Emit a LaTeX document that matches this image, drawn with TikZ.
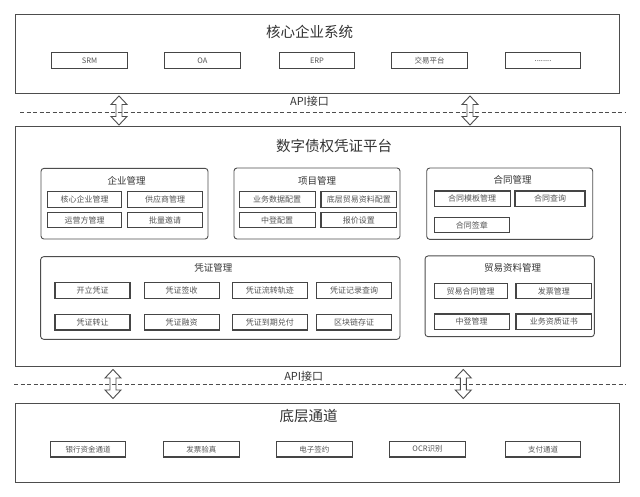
\documentclass[tikz,border=0pt]{standalone}
\usepackage{fontspec}
\setmainfont{Noto Sans CJK SC}
\usetikzlibrary{positioning}
\definecolor{linec}{HTML}{4D4D4D}
\definecolor{titlec}{HTML}{333333}
\definecolor{itemc}{HTML}{555555}
\tikzset{
  outerbox/.style={draw=linec, line width=0.9pt, inner sep=0pt},
  panel/.style={draw=linec, line width=0.9pt, rounded corners=3pt, inner sep=0pt},
  item/.style={draw=linec!90!black, line width=1.1pt, inner sep=0pt, minimum height=15.6pt, text=itemc, font=\fontsize{7.5pt}{8pt}\selectfont},
  bigtitle/.style={text=titlec, inner sep=0pt, font=\fontsize{14.5pt}{16pt}\selectfont},
  paneltitle/.style={text=titlec, inner sep=0pt, font=\fontsize{9.5pt}{11pt}\selectfont},
  apilabel/.style={text=titlec, inner sep=0pt, font=\fontsize{11pt}{12pt}\selectfont},
  dashline/.style={draw=linec, line width=0.9pt, dash pattern=on 4pt off 2.5pt},
  blockarrow/.style={draw=linec, line width=0.9pt, line join=miter},
}
\newcommand{\dblarrow}[3]{%
  \draw[blockarrow] (#1,#2) -- (#1+8,#2+8.5) -- (#1+3,#2+8.5) -- (#1+3,#3-8.5) -- (#1+8,#3-8.5) -- (#1,#3) -- (#1-8,#3-8.5) -- (#1-3,#3-8.5) -- (#1-3,#2+8.5) -- (#1-8,#2+8.5) -- cycle;}
\begin{document}
\begin{tikzpicture}[x=1pt,y=-1pt]
\useasboundingbox (0,0) rectangle (640,497);
\fill[white] (0,0) rectangle (640,497);

% ---------- top: core enterprise system ----------
\node[outerbox, minimum width=604.5pt, minimum height=79pt] (core) at (317.25,53.8) {};
\node[bigtitle] (coret) at (309.7,31.5) {核心企业系统};
\node[item, minimum width=75.5pt] (srm) at (89.5,60.6) {SRM};
\node[item, minimum width=75.5pt] (oa) at (202.5,60.6) {OA};
\node[item, minimum width=75.5pt] (erp) at (317,60.6) {ERP};
\node[item, minimum width=75.5pt] (jy) at (429.5,60.6) {交易平台};
\node[item, minimum width=75.5pt] (etc) at (543,60.6) {........};

% ---------- API line 1 ----------
\coordinate (d1l) at (20,112.5);
\coordinate (d1r) at (626,112.5);
\draw[dashline] (d1l) -- (d1r);
\node[apilabel] (api1) at (309.5,101.5) {API接口};
\dblarrow{119}{96}{125}
\dblarrow{470}{96}{125}

% ---------- middle: platform ----------
\node[outerbox, minimum width=605pt, minimum height=240pt] (plat) at (317.5,246) {};
\node[bigtitle] (platt) at (334,146) {数字债权凭证平台};

% 企业管理
\node[panel, minimum width=167pt, minimum height=70.7pt] (p1) at (124.5,203.7) {};
\node[paneltitle] (p1t) at (126.7,181) {企业管理};
\node[item, minimum width=74.4pt, font=\fontsize{8pt}{9pt}\selectfont] (a1) at (84.5,199.5) {核心企业管理};
\node[item, minimum width=75.4pt, font=\fontsize{8pt}{9pt}\selectfont] (a2) at (165,199.5) {供应商管理};
\node[item, minimum width=74.4pt, font=\fontsize{8pt}{9pt}\selectfont] (a3) at (84.5,220) {运营方管理};
\node[item, minimum width=75.4pt, font=\fontsize{8pt}{9pt}\selectfont] (a4) at (165,220) {批量邀请};

% 项目管理
\node[panel, minimum width=166pt, minimum height=71pt] (p2) at (317,203.5) {};
\node[paneltitle] (p2t) at (317,181) {项目管理};
\node[item, minimum width=75.7pt, font=\fontsize{8pt}{9pt}\selectfont] (b1) at (277.2,199.5) {业务数据配置};
\node[item, minimum width=75.7pt, font=\fontsize{8pt}{9pt}\selectfont] (b2) at (358.8,199.5) {底层贸易资料配置};
\node[item, minimum width=75.7pt, font=\fontsize{8pt}{9pt}\selectfont] (b3) at (277.2,220) {中登配置};
\node[item, minimum width=75.7pt, font=\fontsize{8pt}{9pt}\selectfont] (b4) at (358.8,220) {报价设置};

% 合同管理
\node[panel, minimum width=166pt, minimum height=71.3pt] (p3) at (509.7,203.7) {};
\node[paneltitle] (p3t) at (512.7,180) {合同管理};
\node[item, minimum width=75.7pt, font=\fontsize{8pt}{9pt}\selectfont] (c1) at (472.2,198.8) {合同模板管理};
\node[item, minimum width=70pt, font=\fontsize{8pt}{9pt}\selectfont] (c2) at (550,198.8) {合同查询};
\node[item, minimum width=75pt, font=\fontsize{8pt}{9pt}\selectfont] (c3) at (471.8,225) {合同签章};

% 凭证管理
\node[panel, minimum width=359.3pt, minimum height=82.6pt] (p4) at (220.3,298) {};
\node[paneltitle] (p4t) at (213.3,268.3) {凭证管理};
\node[item, minimum width=75pt, font=\fontsize{8pt}{9pt}\selectfont] (v1) at (92.5,290.5) {开立凭证};
\node[item, minimum width=75pt, font=\fontsize{8pt}{9pt}\selectfont] (v2) at (181.7,290.5) {凭证签收};
\node[item, minimum width=75pt, font=\fontsize{8pt}{9pt}\selectfont] (v3) at (269.8,290.5) {凭证流转轨迹};
\node[item, minimum width=75pt, font=\fontsize{8pt}{9pt}\selectfont] (v4) at (354.2,290.5) {凭证记录查询};
\node[item, minimum width=75pt, font=\fontsize{8pt}{9pt}\selectfont] (v5) at (92.5,322.2) {凭证转让};
\node[item, minimum width=75pt, font=\fontsize{8pt}{9pt}\selectfont] (v6) at (181.7,322.2) {凭证融资};
\node[item, minimum width=75pt, font=\fontsize{8pt}{9pt}\selectfont] (v7) at (269.8,322.2) {凭证到期兑付};
\node[item, minimum width=75pt, font=\fontsize{8pt}{9pt}\selectfont] (v8) at (354.2,322.2) {区块链存证};

% 贸易资料管理
\node[panel, minimum width=169.3pt, minimum height=80.7pt] (p5) at (509.7,296.3) {};
\node[paneltitle] (p5t) at (512.7,268.3) {贸易资料管理};
\node[item, minimum width=73.3pt, font=\fontsize{8pt}{9pt}\selectfont] (t1) at (470.7,291) {贸易合同管理};
\node[item, minimum width=75.7pt, font=\fontsize{8pt}{9pt}\selectfont] (t2) at (553.8,291) {发票管理};
\node[item, minimum width=75.3pt, font=\fontsize{8pt}{9pt}\selectfont] (t3) at (471.7,321.8) {中登管理};
\node[item, minimum width=75.7pt, font=\fontsize{8pt}{9pt}\selectfont] (t4) at (553.8,321.8) {业务资质证书};

% ---------- API line 2 ----------
\coordinate (d2l) at (14,384);
\coordinate (d2r) at (626,384);
\draw[dashline] (d2l) -- (d2r);
\node[apilabel] (api2) at (303.7,376) {API接口};
\dblarrow{113}{369.5}{398.5}
\dblarrow{463.3}{369.5}{398.5}

% ---------- bottom: channels ----------
\node[outerbox, minimum width=604.5pt, minimum height=78.7pt] (base) at (317.25,442.6) {};
\node[bigtitle] (baset) at (308.7,416.5) {底层通道};
\node[item, minimum width=75.5pt] (e1) at (88,449.2) {银行资金通道};
\node[item, minimum width=75.5pt] (e2) at (201.3,449.2) {发票验真};
\node[item, minimum width=75.5pt] (e3) at (314.4,449.2) {电子签约};
\node[item, minimum width=75.5pt] (e4) at (427.5,449.2) {OCR识别};
\node[item, minimum width=75.5pt] (e5) at (543,449.2) {支付通道};
\end{tikzpicture}
\end{document}
